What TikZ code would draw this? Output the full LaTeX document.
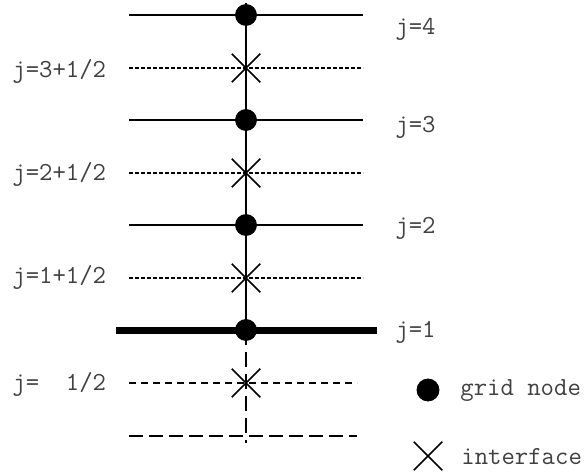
\documentclass[tikz,border=0pt]{standalone}
\usetikzlibrary{shapes.misc}
\tikzstyle{gridnode}=[circle,fill=black,draw,minimum size=10.5pt,inner sep=0pt]
\tikzstyle{interface}=[cross out,draw,line width=0.75pt,minimum size=13.5pt,inner sep=0pt]
\tikzstyle{fullline} = [draw,line width=1pt]
\tikzstyle{boundline} = [draw,line width=3.5pt]
\tikzstyle{halfline} = [draw,line width=0.8pt,dash pattern=on 2pt off 1pt]
\tikzstyle{ghosthalf} = [draw,line width=0.8pt,dash pattern=on 3.5pt off 2.5pt]
\tikzstyle{ghostline} = [draw,line width=1pt,dash pattern=on 7pt off 3pt]
\tikzstyle{jtext} = [font=\ttfamily\fontsize{13}{15}\selectfont,text=black!75,anchor=west,inner sep=0pt]

\begin{document}
\begin{tikzpicture}[x=0.5pt,y=-0.5pt]
    \useasboundingbox (0,0) rectangle (584,476);
    % First the grid lines j=4,3,2 and the interfaces between them
    \foreach \y/\name in {15/4, 120/3, 225/2}
        \path[fullline] (129,\y) coordinate (L\name) -- (363,\y) coordinate (R\name);
    \foreach \y/\name in {68/h3, 173/h2, 278/h1}
        \path[halfline] (129,\y) coordinate (L\name) -- (363,\y) coordinate (R\name);
    % boundary j=1 and the ghost cells below it
    \path[boundline] (116,330) coordinate (L1) -- (377,330) coordinate (R1);
    \path[ghosthalf] (129,383) coordinate (Lh0) -- (357,383) coordinate (Rh0);
    \path[ghostline] (129,436) coordinate (L0) -- (357,436) coordinate (R0);

    % the column through the nodes
    \coordinate (top) at (246,3);
    \coordinate (c1) at (246,330);
    \coordinate (bot) at (246,443);
    \path[fullline] (top) -- (c1);
    \path[draw,line width=1pt,dash pattern=on 7.5pt off 3.5pt] (c1) -- (bot);

    % Then we draw the vertices
    \foreach \pos/\name in {{(246,15)/n4}, {(246,120)/n3}, {(246,225)/n2}, {(246,330)/n1}}
        \node[gridnode] (\name) at \pos {};
    \foreach \pos/\name in {{(246,68)/f3}, {(246,173)/f2}, {(246,278)/f1}, {(246,383)/f0}}
        \node[interface] (\name) at \pos {};

    % labels
    \foreach \pos/\name/\text in {{(395,29)/j4/j=4}, {(395,127)/j3/j=3}, {(395,228)/j2/j=2}, {(395,332)/j1/j=1}}
        \node[jtext] (\name) at \pos {\text};
    \foreach \pos/\name/\text in {{(12,71)/jh3/{j=3+1/2}}, {(12,174)/jh2/{j=2+1/2}}, {(12,277)/jh1/{j=1+1/2}}, {(12,384)/jh0/{j=\ \ 1/2}}}
        \node[jtext] (\name) at \pos {\text};

    % legend
    \node[gridnode,minimum size=11pt] (keynode) at (428,390) {};
    \node[interface] (keyface) at (428,456) {};
    \node[jtext] (keynodetext) at (460,391) {grid node};
    \node[jtext] (keyfacetext) at (461,457) {interface};
\end{tikzpicture}
\end{document}
